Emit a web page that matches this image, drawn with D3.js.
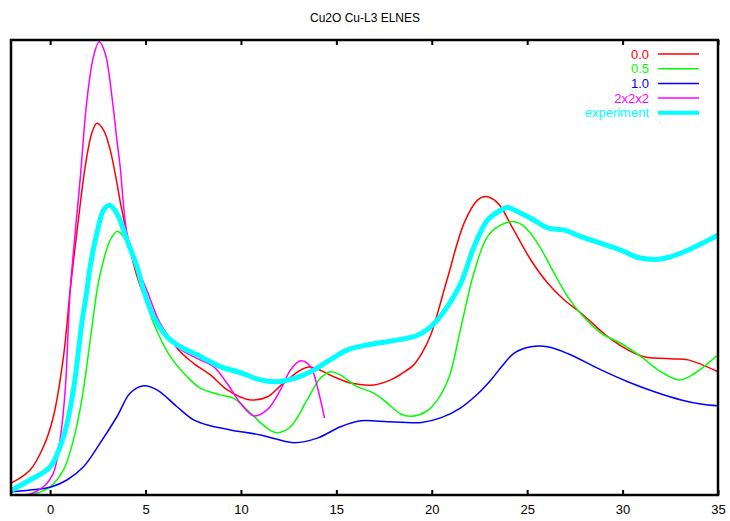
<!DOCTYPE html>
<html><head><meta charset="utf-8">
<script src="https://cdn.jsdelivr.net/npm/d3@7"></script>
<style>body{margin:0;background:#fff}svg{display:block}text{font-family:"Liberation Sans",Arial,sans-serif}</style>
</head><body>
<svg id="c" width="730" height="521"></svg>
<script>
const title = "Cu2O Cu-L3 ELNES";
const xTicks = [0,5,10,15,20,25,30,35];
const seriesNames = ["0.0","0.5","1.0","2x2x2","experiment"];
const seriesColors = ["#ff0000","#00ff00","#0000ff","#ff00ff","#00ffff"];
const s00 = [[-2,2.7],[-1.05,5.5],[-0.35,10.6],[0.17,17.2],[0.7,30.4],[1.05,45],[1.4,57.6],[1.84,72.2],[2.19,79.6],[2.45,81.7],[2.8,80.2],[3.15,75.8],[3.5,68.6],[3.76,62.6],[4.81,45],[6.65,32.3],[7.5,29],[8.4,26.4],[9.28,23.1],[10.5,20.9],[11.4,21.6],[12.23,24.6],[13.5,28.1],[14.86,26],[15.75,24.6],[16.96,24.2],[17.85,25.3],[18.4,26.6],[19.05,28.6],[19.5,31.3],[19.95,35.2],[20.8,47.3],[21.7,59.8],[22.4,64.8],[22.83,65.6],[23.45,64.2],[24.3,58.2],[25.2,51.6],[26.07,46.6],[26.93,42.9],[27.82,40],[29.22,34.8],[30.27,31.9],[31.13,30.4],[32.7,29.9],[33.42,29.7],[35,27.1]];
const s05 = [[-2,-0.4],[-1.05,0],[0,1.8],[0.7,5.5],[1.22,12.1],[1.66,20.9],[2.1,34],[2.5,46],[2.8,51.6],[3.15,56],[3.5,57.9],[3.85,56.8],[4.37,51.6],[4.9,44.4],[5.42,37.8],[6.3,30.4],[7.18,26],[7.87,23.5],[8.92,22],[9.6,21.3],[10.5,18],[11.37,14.7],[11.9,13.7],[12.6,15],[13.47,20.9],[14.17,25.7],[14.7,27.1],[15.2,26.4],[16.1,23.8],[16.96,22.4],[17.67,20.2],[18.37,17.8],[18.9,17.3],[19.69,18.3],[20.3,20.9],[20.9,25.8],[21.5,36.3],[22.2,48.7],[22.92,56.8],[23.6,59.3],[24.24,60.1],[24.85,59],[25.55,55.3],[26.42,48.7],[27.12,43.6],[27.8,39.9],[28.87,35.6],[29.92,33.3],[30.97,30.4],[32,27.1],[32.98,25.3],[33.77,26.7],[35,30.8]];
const s10 = [[-2,0.7],[-1.05,1.1],[0,1.7],[0.88,3.3],[1.75,6.2],[2.62,11.4],[3.5,17.2],[4.2,22.4],[4.9,24],[5.6,23.1],[6.65,19.4],[7.52,16.5],[8.4,15.2],[9.45,14.3],[11.02,13.2],[12.77,11.5],[14,12.5],[15.22,15],[16.27,16.3],[17.67,16.1],[18.37,16],[19.4,15.9],[20.5,17],[21.5,19.1],[22.3,21.8],[23.1,25.3],[23.7,28.4],[24.32,31.2],[25.2,32.6],[26.07,32.6],[27.12,31.1],[28.87,27.5],[30.27,24.9],[31.67,22.7],[33.07,20.9],[34.1,20],[35,19.6]];
const s222 = [[-2,-0.2],[-1.05,0.2],[-0.35,1.8],[0.17,4.8],[0.52,12.1],[0.79,23],[0.96,37.7],[1.05,45],[1.3,57],[1.57,69.2],[1.93,86.8],[2.27,96.3],[2.57,99.6],[2.89,97],[3.24,87.5],[3.5,78],[3.67,72.2],[4.03,57.5],[4.55,50.2],[5.07,45],[5.77,37.7],[6.65,32.6],[7.52,30.4],[7.87,29.7],[8.57,28.2],[9.28,24.5],[9.97,20.2],[10.67,17.4],[11.37,18.7],[12.07,23.1],[12.6,27.5],[13.12,29.5],[13.65,28.2],[14,23.8],[14.38,16.9]];
const sExp = [[-2,1.1],[-1.05,3.3],[0,6.2],[0.7,12.8],[1.22,23.1],[1.66,37.7],[1.93,45],[2.1,50.2],[2.45,57.5],[2.8,62.6],[3.11,63.7],[3.5,61.9],[4.03,56],[4.55,50.2],[4.9,45],[5.42,39.2],[6.13,34.8],[6.82,32.6],[7.7,30.8],[8.4,29.3],[8.92,28.2],[9.97,26.9],[11.02,25.3],[11.9,24.9],[12.77,25.6],[13.65,27.1],[14.52,29.3],[15.58,31.9],[16.62,33],[17.67,33.7],[18.37,34.2],[19.2,35],[19.75,36.3],[20.3,38.5],[20.82,41.4],[21.52,46.5],[22.22,54.6],[22.92,60.4],[23.62,62.6],[23.97,63.2],[24.67,61.9],[25.37,60.4],[26.07,58.7],[26.94,58.2],[27.82,56.8],[28.87,55.3],[29.92,53.8],[30.8,52.2],[31.85,51.8],[32.37,52.2],[33.42,53.8],[35,57.1]];
const seriesData = [s00,s05,s10,s222,sExp];
const seriesWidths = [1.5,1.5,1.5,1.5,5];

const svg = d3.select("#c");
const L=11,R=718,T=40,B=495;
const x = d3.scaleLinear().domain([-2.05,35]).range([L,R]);
const y = d3.scaleLinear().domain([0,100]).range([B,T]);

svg.append("text").attr("x",365).attr("y",22).attr("text-anchor","middle").attr("font-size",12).text(title);

svg.append("defs").append("clipPath").attr("id","clip").append("rect").attr("x",L).attr("y",T).attr("width",R-L).attr("height",B-T);

const line = d3.line().x(d=>x(d[0])).y(d=>y(d[1])).curve(d3.curveCatmullRom.alpha(0.5));
const g = svg.append("g").attr("clip-path","url(#clip)");
seriesData.forEach((d,i)=>{
  g.append("path").attr("d",line(d)).attr("fill","none").attr("stroke",seriesColors[i]).attr("stroke-width",seriesWidths[i]).attr("stroke-linejoin","round");
});

// axes
const xb = d3.axisBottom(x).tickValues(xTicks).tickSize(-5).tickPadding(10);
const axB = svg.append("g").attr("transform",`translate(0,${B})`).call(xb);
axB.select(".domain").remove();
axB.selectAll("line").attr("stroke","#000").attr("stroke-width",2);
axB.selectAll("text").attr("font-size",13).attr("font-family","Liberation Sans, Arial, sans-serif").attr("fill","#000");
const xt = d3.axisTop(x).tickValues(xTicks).tickSize(-5).tickFormat("");
const axT = svg.append("g").attr("transform",`translate(0,${T})`).call(xt);
axT.select(".domain").remove();
axT.selectAll("line").attr("stroke","#000").attr("stroke-width",2);

svg.append("rect").attr("x",L).attr("y",T).attr("width",R-L).attr("height",B-T).attr("fill","none").attr("stroke","#000").attr("stroke-width",2.5);

// legend
const lg = svg.append("g");
seriesNames.forEach((n,i)=>{
  const yy = 54 + i*14.7;
  lg.append("text").attr("x",649).attr("y",yy+4.5).attr("text-anchor","end").attr("font-size",13).attr("fill",seriesColors[i]).text(n);
  lg.append("line").attr("x1",658).attr("x2",699).attr("y1",yy).attr("y2",yy).attr("stroke",seriesColors[i]).attr("stroke-width",seriesWidths[i]===5?4:1.5);
});
</script>
</body></html>
